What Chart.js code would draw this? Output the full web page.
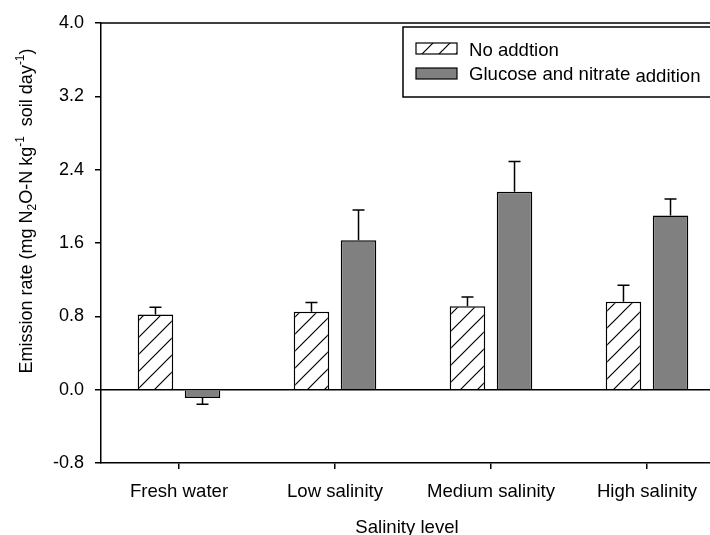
<!DOCTYPE html>
<html>
<head>
<meta charset="utf-8">
<script src="https://cdn.jsdelivr.net/npm/chart.js@4.4.1/dist/chart.umd.min.js"></script>
<style>
  html, body { margin: 0; padding: 0; background: #fff; overflow: hidden; }
  canvas { display: block; }
</style>
</head>
<body>
<canvas id="myChart" width="740" height="535"></canvas>
<script>
// values
const categories = ['Fresh water', 'Low salinity', 'Medium salinity', 'High salinity'];
const noAddition = [0.82, 0.85, 0.91, 0.96];
const noAdditionErr = [0.08, 0.10, 0.10, 0.18];
const glucoseNitrate = [-0.09, 1.63, 2.16, 1.90];
const glucoseNitrateErr = [0.07, 0.33, 0.33, 0.18];
const yTicks = [-0.8, 0.0, 0.8, 1.6, 2.4, 3.2, 4.0];
const seriesNames = ['No addtion', 'Glucose and nitrate addition'];

const FONT = '"Liberation Sans", Arial, sans-serif';

// hatch pattern for the "no addition" bars
const makeHatch = () => {
    const s = 17;
    const c = document.createElement('canvas');
    c.width = s; c.height = s;
    const g = c.getContext('2d');
    g.fillStyle = '#fff';
    g.fillRect(0, 0, s, s);
    g.strokeStyle = '#000';
    g.lineWidth = 1.2;
    g.beginPath();
    g.moveTo(-2, s + 2); g.lineTo(s + 2, -2);
    g.moveTo(-2, 2); g.lineTo(2, -2);
    g.moveTo(s - 2, s + 2); g.lineTo(s + 2, s - 2);
    g.stroke();
    return g.createPattern(c, 'repeat');
};
const ctx = document.getElementById('myChart');
const hatch = makeHatch();
const grey = '#808080';

const extras = {
    id: 'extras',
    beforeDatasetsDraw(chart) {
        const { ctx: c, chartArea: a, scales: { y } } = chart;
        c.save();
        c.strokeStyle = '#000';
        c.lineWidth = 1.5;
        c.beginPath();
        c.moveTo(a.left, a.top); c.lineTo(a.right, a.top);
        const y0 = y.getPixelForValue(0);
        c.moveTo(a.left, y0); c.lineTo(a.right, y0);
        c.stroke();
        c.restore();
    },
    afterDatasetsDraw(chart) {
        const { ctx: c, scales: { y } } = chart;
        const errs = [noAdditionErr, glucoseNitrateErr];
        c.save();
        c.strokeStyle = '#000';
        c.lineWidth = 1.5;
        chart.data.datasets.forEach((ds, di) => {
            chart.getDatasetMeta(di).data.forEach((bar, i) => {
                const v = ds.data[i];
                const e = errs[di][i];
                const sign = v < 0 ? -1 : 1;
                const y1 = y.getPixelForValue(v);
                const y2 = y.getPixelForValue(v + sign * e);
                c.beginPath();
                c.moveTo(bar.x, y1); c.lineTo(bar.x, y2);
                c.moveTo(bar.x - 6, y2); c.lineTo(bar.x + 6, y2);
                c.stroke();
            });
        });
        c.restore();
    },
    afterDraw(chart) {
        const c = chart.ctx;
        c.save();
        // legend
        c.fillStyle = '#fff';
        c.fillRect(403, 27, 320, 70);
        c.strokeStyle = '#000';
        c.lineWidth = 1.5;
        c.strokeRect(403, 27, 320, 70);
        c.lineWidth = 1.2;
        c.fillStyle = hatch;
        c.fillRect(416, 43, 41, 11);
        c.strokeRect(416, 43, 41, 11);
        c.fillStyle = grey;
        c.fillRect(416, 68, 41, 11);
        c.strokeRect(416, 68, 41, 11);
        c.fillStyle = '#000';
        c.font = '18.6px ' + FONT;
        c.textBaseline = 'alphabetic';
        c.textAlign = 'left';
        c.fillText(seriesNames[0], 469, 56);
        const parts = seriesNames[1].split(' ');
        const first = parts.slice(0, -1).join(' ') + ' ';
        c.fillText(first, 469, 80);
        c.fillText(parts[parts.length - 1], 469 + c.measureText(first).width, 82);

        // x title
        c.textAlign = 'center';
        c.fillText('Salinity level', 407, 533);

        // y title with sub/superscripts
        const pieces = [
            ['Emission rate (mg N', 0], ['2', 1], ['O-N kg', 0], ['-1', 2],
            ['  soil day', 0], ['-1', 2], [')', 0]
        ];
        const big = '18px ' + FONT, small = '12px ' + FONT;
        let w = 0;
        pieces.forEach(([t, k]) => { c.font = k ? small : big; w += c.measureText(t).width; });
        c.translate(25, 211);
        c.rotate(-Math.PI / 2);
        c.textAlign = 'left';
        let x = -w / 2;
        pieces.forEach(([t, k]) => {
            c.font = k ? small : big;
            const dy = k === 1 ? 10.5 : (k === 2 ? -1.5 : 6.5);
            c.fillText(t, x, dy);
            x += c.measureText(t).width;
        });
        c.restore();
    }
};

new Chart(ctx, {
    type: 'bar',
    data: {
        labels: categories,
        datasets: [{
            label: seriesNames[0],
            data: noAddition,
            backgroundColor: hatch,
            borderColor: '#000',
            borderWidth: 1.5,
            xAxisID: 'x'
        }, {
            label: seriesNames[1],
            data: glucoseNitrate,
            backgroundColor: grey,
            borderColor: '#000',
            borderWidth: 1.5,
            xAxisID: 'x'
        }]
    },
    options: {
        responsive: false,
        animation: false,
        devicePixelRatio: 1,
        categoryPercentage: 0.603,
        barPercentage: 0.755,
        layout: { padding: { top: 23, right: 15, bottom: 0, left: 0 } },
        plugins: {
            legend: { display: false },
            tooltip: { enabled: false }
        },
        scales: {
            x: { type: 'category', display: false },
            x2: {
                type: 'linear',
                position: 'bottom',
                offset: false,
                min: -0.5,
                max: 3.5,
                afterBuildTicks: axis => { axis.ticks = categories.map((c, i) => ({ value: i })); },
                afterFit: s => { s.height = 72; },
                grid: { offset: false, drawOnChartArea: false, tickLength: 6, color: '#000', lineWidth: 1.5 },
                border: { display: true, color: '#000', width: 1.5 },
                ticks: {
                    padding: 12,
                    color: '#000',
                    font: { family: FONT, size: 18.6 },
                    callback: v => categories[v]
                }
            },
            y: {
                min: -0.8,
                max: 4.0,
                afterBuildTicks: axis => { axis.ticks = yTicks.map(v => ({ value: v })); },
                afterFit: s => { s.width = 101; },
                grid: { drawOnChartArea: false, tickLength: 6, color: '#000', lineWidth: 1.5 },
                border: { display: true, color: '#000', width: 1.5 },
                ticks: {
                    padding: 11,
                    color: '#000',
                    font: { family: FONT, size: 18 },
                    callback: v => v.toFixed(1)
                }
            }
        }
    },
    plugins: [extras]
});
</script>
</body>
</html>
